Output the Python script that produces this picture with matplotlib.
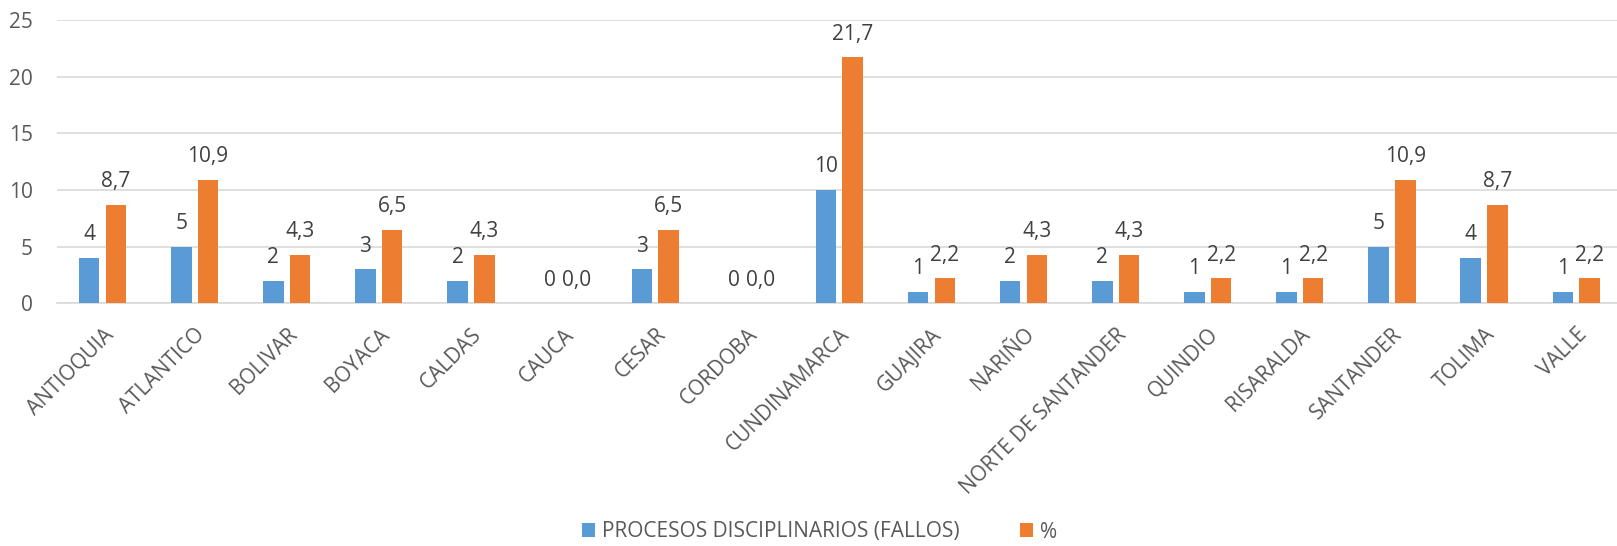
import matplotlib
matplotlib.use("Agg")
from matplotlib import pyplot as plt
import numpy as np

departamentos = ["ANTIOQUIA", "ATLANTICO", "BOLIVAR", "BOYACA", "CALDAS", "CAUCA",
                 "CESAR", "CORDOBA", "CUNDINAMARCA", "GUAJIRA", "NARIÑO",
                 "NORTE DE SANTANDER", "QUINDIO", "RISARALDA", "SANTANDER",
                 "TOLIMA", "VALLE"]
procesos = [4, 5, 2, 3, 2, 0, 3, 0, 10, 1, 2, 2, 1, 1, 5, 4, 1]
porcentaje = [8.7, 10.9, 4.3, 6.5, 4.3, 0.0, 6.5, 0.0, 21.7, 2.2, 4.3, 4.3,
              2.2, 2.2, 10.9, 8.7, 2.2]

AZUL = "#5B9BD5"
NARANJA = "#ED7D31"
GRIS_TXT = "#595959"
GRIS_LBL = "#404040"
GRIS_GRID = "#D9D9D9"

plt.rcParams["font.family"] = ["Open Sans", "DejaVu Sans"]
FS = 15

fig = plt.figure(figsize=(16.17, 5.46), dpi=100)
W, H = 1617, 546
ax = fig.add_axes([56.5 / W, 1 - 303.3 / H, (17 * 92.1) / W, (303.3 - 20) / H])

x = np.arange(len(departamentos))
ancho = 0.223
desp = 0.145
b1 = ax.bar(x - desp, procesos, ancho, color=AZUL, label="PROCESOS DISCIPLINARIOS (FALLOS)", zorder=3)
b2 = ax.bar(x + desp, porcentaje, ancho, color=NARANJA, label="%", zorder=3)

for xi, v in zip(x, procesos):
    ax.annotate(f"{v}", (xi - desp, v), xytext=(0, 9), textcoords="offset points",
                ha="center", va="bottom", fontsize=FS, color=GRIS_LBL)
for xi, v in zip(x, porcentaje):
    ax.annotate(f"{v:.1f}".replace(".", ","), (xi + desp, v), xytext=(0, 9),
                textcoords="offset points", ha="center", va="bottom", fontsize=FS, color=GRIS_LBL)

ax.set_xlim(-0.5, len(departamentos) - 0.5)
ax.set_ylim(0, 25)
ax.set_yticks([0, 5, 10, 15, 20, 25])
ax.yaxis.grid(True, color=GRIS_GRID, linewidth=1.2, zorder=0)
for s in ["top", "right", "left"]:
    ax.spines[s].set_visible(False)
ax.spines["bottom"].set_color(GRIS_GRID)
ax.spines["bottom"].set_linewidth(1.2)
ax.tick_params(axis="y", length=0, pad=17, labelsize=FS, labelcolor=GRIS_TXT)
ax.tick_params(axis="x", length=0, pad=15, labelsize=FS, labelcolor=GRIS_TXT)

ax.set_xticks(x)
ax.set_xticklabels(departamentos, rotation=45, ha="right", va="top", rotation_mode="anchor")

fig.legend(handles=[b1, b2], loc="center", bbox_to_anchor=(0.507, 1 - 532 / H),
           ncol=2, frameon=False, fontsize=FS, labelcolor=GRIS_TXT,
           handlelength=0.63, handleheight=0.63, handletextpad=0.34, columnspacing=2.9)

fig.savefig("out.png", dpi=100)
